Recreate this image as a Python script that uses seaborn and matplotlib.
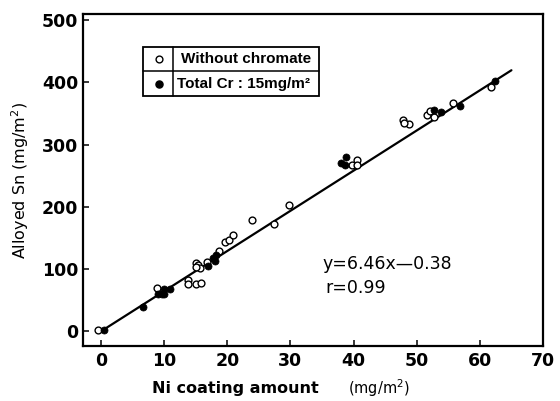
import numpy as np
import pandas as pd
import seaborn as sns
import matplotlib
matplotlib.use("Agg")
import matplotlib.pyplot as plt
from matplotlib.patches import Rectangle
from matplotlib.lines import Line2D

# Ni coating amount (mg/m2) and alloyed Sn (mg/m2)
open_x = [-0.4, 8.8, 13.7, 13.7, 15.1, 15.8, 15.1, 15.4, 15.7, 15.1, 16.8, 18.7,
          19.7, 20.3, 20.9, 23.9, 27.4, 29.8, 39.7, 40.5, 40.6, 47.9, 48.8, 48.0,
          51.6, 52.1, 52.8, 55.8, 61.8]
open_y = [1, 70, 82, 75, 75, 77, 110, 106, 101, 103, 111, 129,
          143, 146, 154, 178, 172, 203, 267, 275, 267, 339, 333, 334,
          347, 354, 345, 367, 392]

cr_x = [0.5, 6.7, 9.0, 9.6, 10.0, 9.9, 10.9, 17.0, 17.8, 18.0, 18.2,
        38.0, 38.7, 38.8, 52.8, 53.9, 56.8, 62.4]
cr_y = [1, 39, 60, 60, 59, 67, 67, 104, 117, 112, 122,
        270, 267, 280, 356, 352, 362, 403]

# Regression line y = 6.46x - 0.38
slope, intercept = 6.46, -0.38
fit_range = [0, 65]

x_ticks = [0, 10, 20, 30, 40, 50, 60, 70]
y_ticks = [0, 100, 200, 300, 400, 500]

sns.set_theme(style="ticks")
plt.rcParams["font.family"] = ["DejaVu Sans"]
plt.rcParams["text.color"] = "black"
plt.rcParams["axes.labelcolor"] = "black"

fig = plt.figure(figsize=(5.6, 4.01), dpi=100)
ax = fig.add_axes([83 / 560, 1 - 346 / 401, 460 / 560, 332 / 401])

fit_df = pd.DataFrame({"x": fit_range})
fit_df["y"] = slope * fit_df["x"] + intercept
sns.lineplot(data=fit_df, x="x", y="y", ax=ax, color="black", linewidth=1.6, zorder=2)

open_df = pd.DataFrame({"x": open_x, "y": open_y})
cr_df = pd.DataFrame({"x": cr_x, "y": cr_y})
sns.scatterplot(data=open_df, x="x", y="y", ax=ax, s=24, facecolor="white",
                edgecolor="black", linewidth=1.0, zorder=3)
sns.scatterplot(data=cr_df, x="x", y="y", ax=ax, s=26, color="black",
                edgecolor="black", linewidth=0.5, zorder=4)

ax.set_xlim(-2.85, 70)
ax.set_ylim(-24, 510)
ax.set_xticks(x_ticks)
ax.set_yticks(y_ticks)
ax.tick_params(direction="in", length=4, width=1.1, colors="black")
ax.tick_params(axis="x", pad=4.5)
ax.tick_params(axis="y", pad=3.5)
for lab in ax.get_xticklabels() + ax.get_yticklabels():
    lab.set_fontsize(12.5)
    lab.set_fontweight("bold")
for sp in ax.spines.values():
    sp.set_linewidth(1.6)
    sp.set_color("black")
    sp.set_visible(True)

ax.set_xlabel("")
ax.set_ylabel("Alloyed Sn (mg/m$^2$)", fontsize=11.5, color="black")
ax.yaxis.set_label_coords(-0.112, 0.5)

fig.text(152 / 560, 1 - 388 / 401, "Ni coating amount", fontsize=11.5,
         fontweight="bold", va="center", ha="left", color="black")
fig.text(348 / 560, 1 - 388 / 401, "(mg/m$^2$)", fontsize=10.5,
         va="center", ha="left", color="black")

# Equation and correlation
ax.text(35.0, 108, "y=6.46x\u20140.38", fontsize=12.5, va="center", ha="left")
ax.text(35.5, 69, "r=0.99", fontsize=12.5, va="center", ha="left")

# Boxed key
tr = ax.transAxes
x0, x1, xm = 0.130, 0.513, 0.196
y0, y1, ym = 0.753, 0.900, 0.828
ax.add_patch(Rectangle((x0, y0), x1 - x0, y1 - y0, transform=tr, fill=False,
                       linewidth=1.3, edgecolor="black", zorder=5))
ax.add_line(Line2D([x0, x1], [ym, ym], transform=tr, color="black", linewidth=1.1, zorder=5))
ax.add_line(Line2D([xm, xm], [y0, y1], transform=tr, color="black", linewidth=1.1, zorder=5))
ax.scatter([0.165], [(ym + y1) / 2], transform=tr, s=24, facecolor="white",
           edgecolor="black", linewidth=1.0, zorder=6)
ax.scatter([0.165], [(y0 + ym) / 2], transform=tr, s=26, color="black", zorder=6)
ax.text(0.212, (ym + y1) / 2, "Without chromate", transform=tr, fontsize=11,
        fontweight="bold", family=["Liberation Sans", "DejaVu Sans"], va="center", ha="left")
ax.text(0.205, (y0 + ym) / 2, "Total Cr : 15mg/m\u00b2", transform=tr, fontsize=11,
        fontweight="bold", family=["Liberation Sans", "DejaVu Sans"], va="center", ha="left")

fig.savefig("out.png", dpi=100, facecolor="white")
